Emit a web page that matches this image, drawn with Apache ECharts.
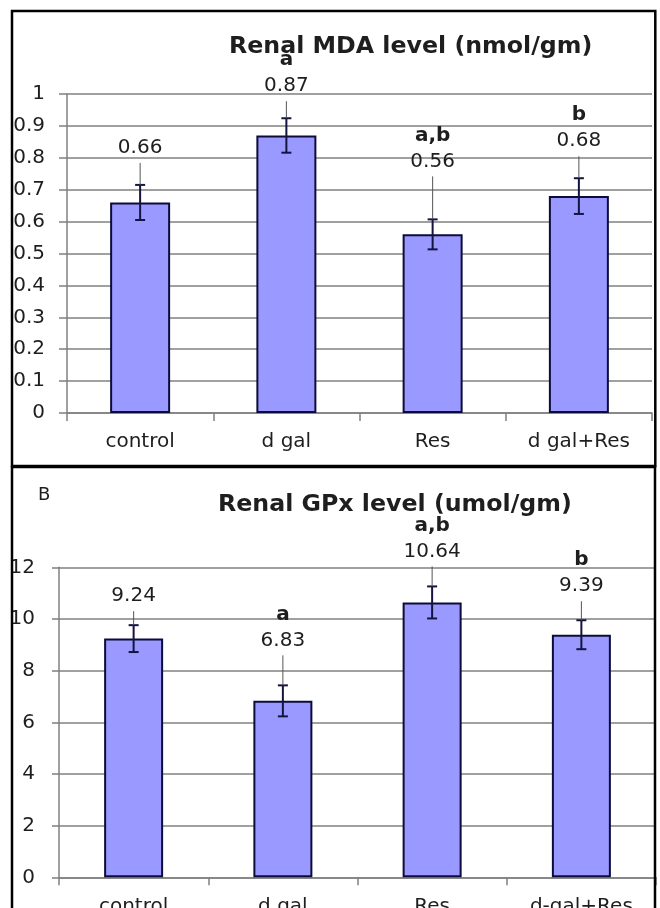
<!DOCTYPE html>
<html><head><meta charset="utf-8">
<script src="https://cdn.jsdelivr.net/npm/echarts@6/dist/echarts.min.js"></script>
<style>html,body{margin:0;padding:0;background:#fff}#c{width:660px;height:908px}</style>
</head><body><div id="c"></div>
<script>
// ---- data ----
const categoriesTop = ['control', 'd gal', 'Res', 'd gal+Res'];
const categoriesBottom = ['control', 'd gal', 'Res', 'd-gal+Res'];
const mdaValues = [0.66, 0.87, 0.56, 0.68];
const mdaErrors = [0.055, 0.054, 0.047, 0.056];
const mdaLetters = ['', 'a', 'a,b', 'b'];
const gpxValues = [9.24, 6.83, 10.64, 9.39];
const gpxErrors = [0.52, 0.60, 0.62, 0.56];
const gpxLetters = ['', 'a', 'a,b', 'b'];
const mdaAxis = { min: 0, max: 1, interval: 0.1 };
const gpxAxis = { min: 0, max: 12, interval: 2 };
const titleTop = 'Renal MDA level (nmol/gm)';
const titleBottom = 'Renal GPx level (umol/gm)';
const panelLabel = 'B';

// ---- layout (label leader lengths, px) ----
const mdaLeader = [22, 17, 43, 22];
const gpxLeader = [14, 30, 20, 19];

const FONT = 'DejaVu Sans';
const TXT = '#1e1e1e';
const GRID = '#808080';

function yAxis(gridIndex, ax, margin, tickLen) {
  return {
    type: 'value', gridIndex, min: ax.min, max: ax.max, interval: ax.interval,
    axisLine: { show: true, lineStyle: { color: GRID, width: 1.5 } },
    axisTick: { show: true, length: tickLen, lineStyle: { color: GRID, width: 1.5 } },
    splitLine: { show: true, lineStyle: { color: GRID, width: 1.5 } },
    axisLabel: { color: TXT, fontFamily: FONT, fontSize: 20, margin }
  };
}
function xAxis(gridIndex, cats, margin) {
  return {
    type: 'category', gridIndex, data: cats,
    axisLine: { show: true, lineStyle: { color: GRID, width: 1.5 } },
    axisTick: { show: true, alignWithLabel: false, length: 8, lineStyle: { color: GRID, width: 1.5 } },
    axisLabel: { color: TXT, fontFamily: FONT, fontSize: 20, margin }
  };
}
function barSeries(idx, values, width) {
  return {
    type: 'bar', xAxisIndex: idx, yAxisIndex: idx, data: values, barWidth: width,
    itemStyle: { color: '#9999ff', borderColor: '#0c0c3a', borderWidth: 2 },
    silent: true, animation: false
  };
}
function errSeries(idx, values, errors, letters, leaders) {
  return {
    type: 'custom', xAxisIndex: idx, yAxisIndex: idx, z: 5, animation: false, silent: true,
    data: values.map((v, i) => [i, v, errors[i]]),
    renderItem(params, api) {
      const i = api.value(0), v = api.value(1), e = api.value(2);
      const hi = api.coord([i, v + e]);
      const lo = api.coord([i, v - e]);
      const x = hi[0];
      const d = params.dataIndex;
      const topY = hi[1] - leaders[d];
      const eb = { stroke: '#141440', lineWidth: 2 };
      const children = [
        { type: 'line', shape: { x1: x, y1: hi[1], x2: x, y2: lo[1] }, style: eb },
        { type: 'line', shape: { x1: x - 5, y1: hi[1], x2: x + 5, y2: hi[1] }, style: eb },
        { type: 'line', shape: { x1: x - 5, y1: lo[1], x2: x + 5, y2: lo[1] }, style: eb },
        { type: 'line', shape: { x1: x, y1: topY, x2: x, y2: hi[1] }, style: { stroke: '#555', lineWidth: 1 } },
        { type: 'text', x: x, y: topY - 5, style: { text: values[d].toFixed(2), fill: TXT, font: '20px "' + FONT + '"', textAlign: 'center', textVerticalAlign: 'bottom' } }
      ];
      if (letters[d]) {
        children.push({ type: 'text', x: x, y: topY - 31, style: { text: letters[d], fill: TXT, font: 'bold 20px "' + FONT + '"', textAlign: 'center', textVerticalAlign: 'bottom' } });
      }
      return { type: 'group', children };
    }
  };
}

const chart = echarts.init(document.getElementById('c'), null, { renderer: 'canvas' });
chart.setOption({
  animation: false,
  backgroundColor: '#fff',
  title: [
    { text: titleTop, left: 224, top: 30, textStyle: { fontFamily: FONT, fontWeight: 'bold', fontSize: 23.7, color: TXT } },
    { text: titleBottom, left: 213, top: 488, textStyle: { fontFamily: FONT, fontWeight: 'bold', fontSize: 23.7, color: TXT } },
    { text: panelLabel, left: 33, top: 481, textStyle: { fontFamily: FONT, fontWeight: 'normal', fontSize: 18, color: TXT } }
  ],
  grid: [
    { left: 67, right: 8, top: 94, height: 319, outerBoundsMode: 'none', containLabel: false },
    { left: 59, right: 4, top: 567.3, height: 310, outerBoundsMode: 'none', containLabel: false }
  ],
  xAxis: [xAxis(0, categoriesTop, 19), xAxis(1, categoriesBottom, 19)],
  yAxis: [yAxis(0, mdaAxis, 22, 8), yAxis(1, gpxAxis, 24, 7)],
  series: [
    barSeries(0, mdaValues, 60),
    errSeries(0, mdaValues, mdaErrors, mdaLetters, mdaLeader),
    barSeries(1, gpxValues, 59),
    errSeries(1, gpxValues, gpxErrors, gpxLetters, gpxLeader)
  ],
  graphic: [
    { type: 'rect', z: 100, silent: true, shape: { x: 12, y: 11, width: 643.3, height: 455 }, style: { fill: 'none', stroke: '#000', lineWidth: 2.5 } },
    { type: 'rect', z: 100, silent: true, shape: { x: 12, y: 467, width: 643, height: 470 }, style: { fill: 'none', stroke: '#000', lineWidth: 2.5 } }
  ]
});
</script></body></html>
